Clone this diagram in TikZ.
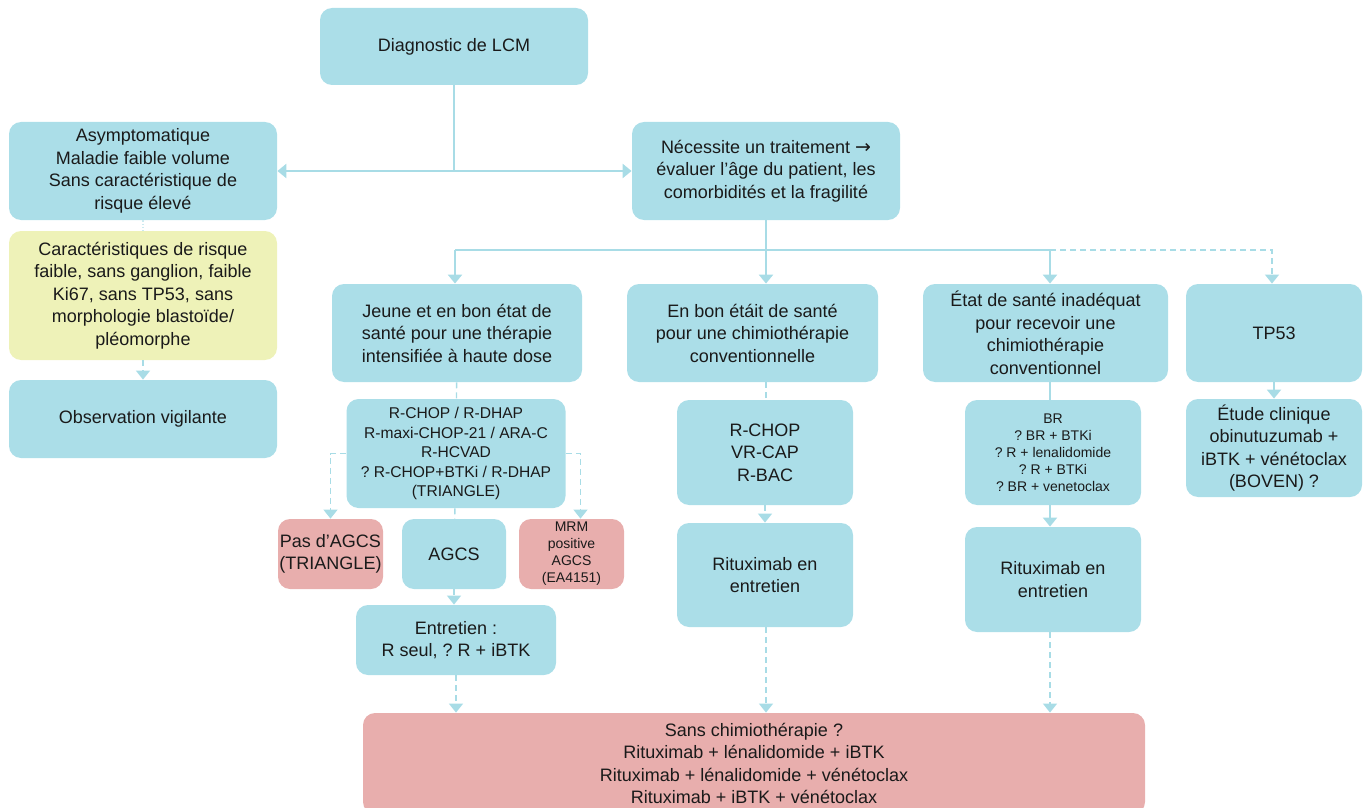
\documentclass[tikz,border=0pt]{standalone}
\usepackage{fontspec}
\setmainfont{Liberation Sans}
\newfontfamily\arrowfont{DejaVu Sans}
\usetikzlibrary{arrows.meta}
\definecolor{boxblue}{HTML}{ABDEE8}
\definecolor{boxyellow}{HTML}{EEF2B8}
\definecolor{boxred}{HTML}{E8AEAD}
\definecolor{lineblue}{HTML}{A8DCE6}
\definecolor{textgray}{HTML}{1A1A1A}
\tikzset{
  box/.style={fill=boxblue,rounded corners=6pt,align=center,inner sep=0pt,text=textgray,font=\fontsize{9}{11.25}\selectfont},
  yellowbox/.style={box,fill=boxyellow},
  redbox/.style={box,fill=boxred},
  midtext/.style={font=\fontsize{7.8}{9.75}\selectfont},
  smalltext/.style={font=\fontsize{7}{8.5}\selectfont},
  solidlink/.style={draw=lineblue,line width=1.4pt},
  thinlink/.style={draw=lineblue,line width=1pt},
  dashlink/.style={draw=lineblue,line width=0.7pt,dash pattern=on 3pt off 2pt},
  dotlink/.style={draw=lineblue!60,line width=0.6pt,dash pattern=on 0.8pt off 0.8pt},
  arrowtip/.style={-{Triangle[width=7pt,length=4.5pt]}}
}

\begin{document}
\frenchspacing
\begin{tikzpicture}[x=0.5pt,y=-0.5pt]
\useasboundingbox (0,0) rectangle (1366,808);
\node[box,minimum width=134pt,minimum height=38.5pt](diag)at(454,46.5){Diagnostic de LCM};
\node[box,minimum width=134pt,minimum height=49pt](asym)at(143,171){Asymptomatique\\Maladie faible volume\\Sans caractéristique de\\risque élevé};
\node[box,minimum width=134pt,minimum height=49pt](need)at(766,171){Nécessite un traitement {\arrowfont\fontsize{9.5}{10}\selectfont →}\\évaluer l’âge du patient, les\\comorbidités et la fragilité};
\node[yellowbox,minimum width=134pt,minimum height=64.5pt](risk)at(143,295.5){Caractéristiques de risque\\faible, sans ganglion, faible\\Ki67, sans TP53, sans\\morphologie blastoïde/\\pléomorphe};
\node[box,minimum width=134pt,minimum height=39pt](obs)at(143,419){Observation vigilante};
\node[box,minimum width=125pt,minimum height=49pt](young)at(457,333){Jeune et en bon état de\\santé pour une thérapie\\intensifiée à haute dose};
\node[box,minimum width=125.5pt,minimum height=49pt](good)at(752.5,333){En bon étáit de santé\\pour une chimiothérapie\\conventionnelle};
\node[box,minimum width=122.5pt,minimum height=49pt](unfit)at(1045.5,333){État de santé inadéquat\\pour recevoir une\\chimiothérapie\\conventionnel};
\node[box,minimum width=88pt,minimum height=49pt](tp53)at(1274,333){TP53};
\node[box,midtext,minimum width=109.5pt,minimum height=54.5pt](youngrx)at(456,453.5){R-CHOP / R-DHAP\\R-maxi-CHOP-21 / ARA-C\\R-HCVAD\\? R-CHOP+BTKi / R-DHAP\\(TRIANGLE)};
\node[redbox,minimum width=52.5pt,minimum height=35pt](noasct)at(330.5,554){Pas d’AGCS\\(TRIANGLE)};
\node[box,minimum width=52pt,minimum height=35pt](asct)at(454,554){AGCS};
\node[redbox,smalltext,minimum width=52.5pt,minimum height=35pt](mrd)at(571.5,554){MRM\\positive\\AGCS\\(EA4151)};
\node[box,minimum width=100pt,minimum height=35pt](maint)at(456,640){Entretien :\\R seul, ? R + iBTK};
\node[box,minimum width=88pt,minimum height=52.5pt](goodrx)at(765,452.5){R-CHOP\\VR-CAP\\R-BAC};
\node[box,minimum width=88pt,minimum height=52pt](goodmaint)at(765,575){Rituximab en\\entretien};
\node[box,smalltext,minimum width=88pt,minimum height=52.5pt](unfitrx)at(1053,452.5){BR\\? BR + BTKi\\? R + lenalidomide\\? R + BTKi\\? BR + venetoclax};
\node[box,minimum width=88pt,minimum height=52.5pt](unfitmaint)at(1053,579.5){Rituximab en\\entretien};
\node[box,minimum width=88pt,minimum height=49pt](trial)at(1274,448){Étude clinique\\obinutuzumab +\\iBTK + vénétoclax\\(BOVEN) ?};
\node[redbox,minimum width=391pt,minimum height=50.5pt](chemofree)at(754,763.5){Sans chimiothérapie ?\\Rituximab + lénalidomide + iBTK\\Rituximab + lénalidomide + vénétoclax\\Rituximab + iBTK + vénétoclax};
\coordinate(split)at(454,171);
\coordinate(hub)at(766,250);
\coordinate(hubL)at(455,250);
\coordinate(hubR)at(1050,250);
\draw[solidlink](diag)--(split);
\draw[solidlink,arrowtip](split)--(asym.east);
\draw[solidlink,arrowtip](split)--(need.west);
\draw[dotlink](asym)--(risk);
\draw[dashlink,arrowtip](risk)--(obs);
\draw[solidlink](need)--(hub);
\draw[solidlink](hubL)--(hubR);
\draw[solidlink,arrowtip](hubL)--(hubL |- young.north);
\draw[solidlink,arrowtip](hub)--(hub |- good.north);
\draw[solidlink,arrowtip](hubR)--(hubR |- unfit.north);
\draw[dashlink,arrowtip](hubR)-|([xshift=-1pt]tp53.north);
\draw[dashlink](young)--(youngrx);
\draw[dashlink,arrowtip](youngrx.west)-|(noasct.north);
\draw[dashlink,arrowtip](youngrx.east)-|([xshift=4.5pt]mrd.north);
\draw[dashlink](youngrx)--(asct);
\draw[dashlink,arrowtip](asct)--(asct.south |- maint.north);
\draw[dashlink,arrowtip](maint.south)--(maint.south |- chemofree.north);
\draw[dashlink](good.south -| hub)--(hub |- goodrx.north);
\draw[dashlink,arrowtip](goodrx)--(goodmaint);
\draw[dashlink,arrowtip](goodmaint.south -| hub)--(hub |- chemofree.north);
\draw[thinlink](unfit.south -| hubR)--(hubR |- unfitrx.north);
\draw[thinlink,arrowtip](unfitrx.south -| hubR)--(hubR |- unfitmaint.north);
\draw[dashlink,arrowtip](unfitmaint.south -| hubR)--(hubR |- chemofree.north);
\draw[thinlink,arrowtip](tp53)--(trial);
\end{tikzpicture}
\end{document}
